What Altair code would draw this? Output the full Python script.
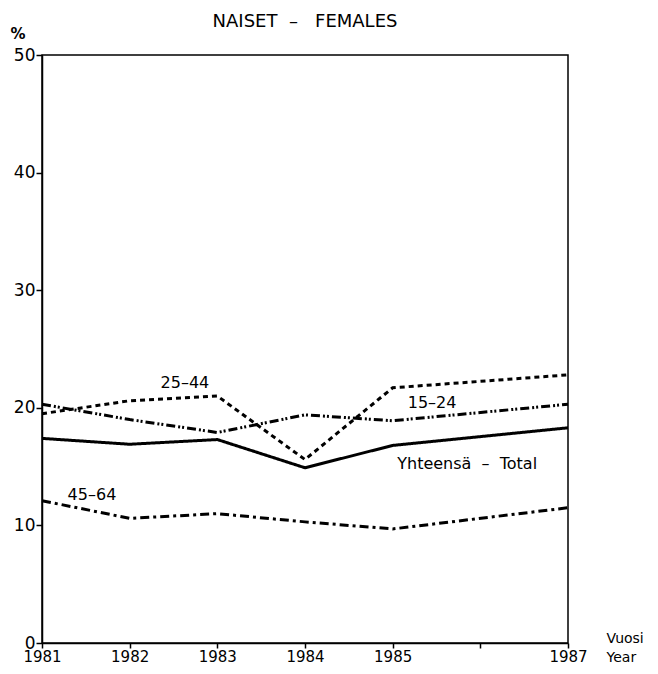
import altair as alt
import pandas as pd

years = [1981, 1982, 1983, 1984, 1985, 1987]
total = [17.4, 16.9, 17.3, 14.9, 16.8, 18.3]
age_25_44 = [19.5, 20.6, 21.0, 15.6, 21.7, 22.8]
age_15_24 = [20.3, 19.0, 17.9, 19.4, 18.9, 20.3]
age_45_64 = [12.1, 10.6, 11.0, 10.3, 9.7, 11.5]

series_names = ["Yhteensä – Total", "25–44", "15–24", "45–64"]
series_values = [total, age_25_44, age_15_24, age_45_64]

rows = []
for name, vals in zip(series_names, series_values):
    for y, v in zip(years, vals):
        rows.append({"year": y, "value": v, "series": name})
df = pd.DataFrame(rows)

NB = "\u00a0"
label_text = ["25–44", "15–24", f"Yhteensä{NB}{NB}–{NB}{NB}Total", "45–64"]
label_x = [1982.63, 1985.45, 1985.85, 1981.57]
label_y = [22.1, 20.4, 15.2, 12.6]
labels = pd.DataFrame({"text": label_text, "x": label_x, "y": label_y})

FONT = "DejaVu Sans"

x_scale = alt.Scale(domain=[1981, 1987], nice=False, zero=False)
y_scale = alt.Scale(domain=[0, 50], nice=False)

x_axis = alt.Axis(
    values=[1981, 1982, 1983, 1984, 1985, 1986, 1987],
    labelExpr="datum.value == 1986 ? '' : datum.value",
    format="d", grid=False, tickSize=5, tickColor="black", domainColor="black",
    domainWidth=1.5, tickWidth=1.5, labelFontSize=15, labelColor="black",
    labelFont=FONT, labelPadding=1, labelFlush=False,
    title=["Vuosi", "Year"], titleFont=FONT, titleFontSize=14,
    titleFontWeight="normal", titleAlign="left", titleAnchor="start",
    titleX=564, titleY=-12, titleBaseline="top", titleLineHeight=19, titleColor="black",
)
y_axis = alt.Axis(
    values=[0, 10, 20, 30, 40, 50], grid=False, tickSize=6, tickColor="black",
    domainColor="black", domainWidth=1.5, tickWidth=1.5, labelFontSize=17,
    labelColor="black", labelFont=FONT, labelPadding=1,
    title="%", titleAngle=0, titleFont=FONT, titleFontSize=15, titleFontWeight="bold",
    titleX=-32, titleY=-14, titleColor="black", titleAlign="left",
)

lines = alt.Chart(df).mark_line(strokeWidth=3, color="black").encode(
    x=alt.X("year:Q", scale=x_scale, axis=x_axis),
    y=alt.Y("value:Q", scale=y_scale, axis=y_axis),
    strokeDash=alt.StrokeDash(
        "series:N",
        scale=alt.Scale(
            domain=series_names,
            range=[[1, 0], [5, 4], [9, 3, 2, 2, 2, 3], [9, 4, 3, 4]],
        ),
        legend=None,
    ),
    detail="series:N",
)

text = alt.Chart(labels).mark_text(fontSize=16, font=FONT, color="black").encode(
    x=alt.X("x:Q", scale=x_scale),
    y=alt.Y("y:Q", scale=y_scale),
    text="text:N",
)

chart = (
    alt.layer(lines, text)
    .properties(
        width=526, height=588,
        title=alt.TitleParams(f"NAISET{NB}{NB}–{NB}{NB}{NB}FEMALES", fontSize=18, font=FONT,
                              fontWeight="normal", color="black", offset=-5),
        padding={"left": 34, "top": 47, "right": 82, "bottom": 21},
        autosize="none",
    )
    .configure_view(stroke="black", strokeWidth=1.5)
)

chart.save("out.html", embed_options={"renderer": "svg", "actions": False})
